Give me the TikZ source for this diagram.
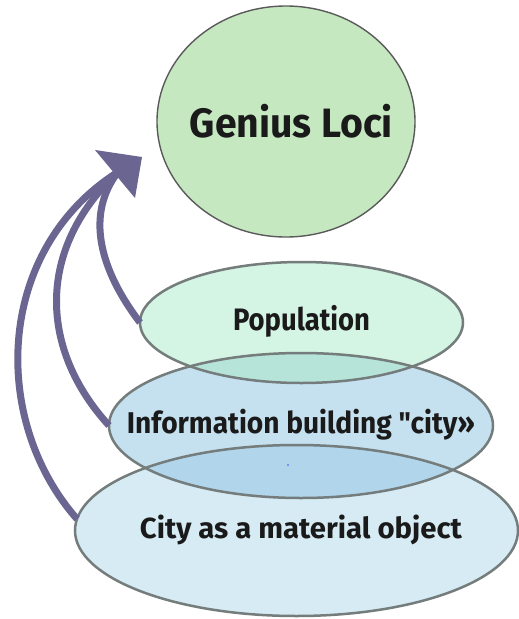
\documentclass[tikz,border=0pt]{standalone}
\usepackage{fontspec}
\setmainfont{Fira Sans}[Ligatures=TeXOff]
\usetikzlibrary{shapes.geometric}
\definecolor{gcol}{HTML}{C5E8C0}
\definecolor{popcol}{HTML}{D4F4E4}
\definecolor{infocol}{HTML}{C5E1F0}
\definecolor{citycol}{HTML}{D6EBF4}
\definecolor{popinfo}{HTML}{B6E4D9}
\definecolor{infocity}{HTML}{B1D5EA}
\definecolor{edgecol}{HTML}{747C7C}
\definecolor{gedge}{HTML}{5A5A5A}
\definecolor{shaftcol}{HTML}{6B6691}
\definecolor{txtcol}{HTML}{1A1A1A}
\tikzset{
  ell/.style={ellipse, inner sep=0pt, outer sep=0pt},
  outline/.style={draw=edgecol, line width=2.5pt},
  shaft/.style={draw=shaftcol, line width=7pt, line cap=butt},
  lbl/.style={anchor=base, inner sep=0pt, text=txtcol, font=\bfseries}
}
\begin{document}
\begin{tikzpicture}[x=1pt,y=-1pt]
\useasboundingbox[fill=white] (0,0) rectangle (519,619);
% Genius Loci
\node[ell, fill=gcol, draw=gedge, line width=1.4pt, minimum width=258pt, minimum height=231pt] (g) at (286,121.5) {};
% stacked ellipses (fills)
\node[ell, fill=citycol, minimum width=443pt, minimum height=171pt] (city) at (296.5,530.5) {};
\node[ell, fill=infocol, minimum width=384pt, minimum height=145pt] (info) at (301,425.5) {};
\node[ell, fill=popcol, minimum width=323pt, minimum height=121pt] (pop) at (301.5,322.5) {};
% overlaps
\begin{scope}
  \clip (info.center) ellipse [x radius=192pt, y radius=72.5pt];
  \fill[infocity] (city.center) ellipse [x radius=221.5pt, y radius=85.5pt];
\end{scope}
\begin{scope}
  \clip (pop.center) ellipse [x radius=161.5pt, y radius=60.5pt];
  \fill[popinfo] (info.center) ellipse [x radius=192pt, y radius=72.5pt];
\end{scope}
% outlines
\draw[outline] (city.center) ellipse [x radius=221.5pt, y radius=85.5pt];
\draw[outline] (info.center) ellipse [x radius=192pt, y radius=72.5pt];
\draw[outline] (pop.center) ellipse [x radius=161.5pt, y radius=60.5pt];
% tiny dot
\fill[blue!70] (288,465) circle (0.9pt);
% texts
\node[lbl] (gt) at (291.5,137) {\resizebox{203pt}{\height}{\fontsize{41pt}{41pt}\selectfont Genius Loci}};
\node[lbl] (popt) at (301.5,330) {\resizebox{137pt}{\height}{\fontsize{31pt}{31pt}\selectfont Population}};
\node[lbl] (infot) at (301,433) {\resizebox{348pt}{\height}{\fontsize{30pt}{30pt}\selectfont Information building "city»}};
\node[lbl] (cityt) at (301,538) {\resizebox{322pt}{\height}{\fontsize{29pt}{29pt}\selectfont City as a material object}};
% arrows
\coordinate (hb) at (118,172);
\coordinate (tipA) at (95,150);
\coordinate (tipB) at (142,157);
\coordinate (tipC) at (135,198);
\draw[shaft] (city.177) .. controls (-10,420) and (-5,250) .. (hb);
\draw[shaft] (info.west) .. controls (40,350) and (35,250) .. (hb);
\draw[shaft] (pop.west) .. controls (100,270) and (85,215) .. (hb);
\fill[shaftcol] (tipA) -- (tipB) -- (tipC) -- cycle;
\end{tikzpicture}
\end{document}
